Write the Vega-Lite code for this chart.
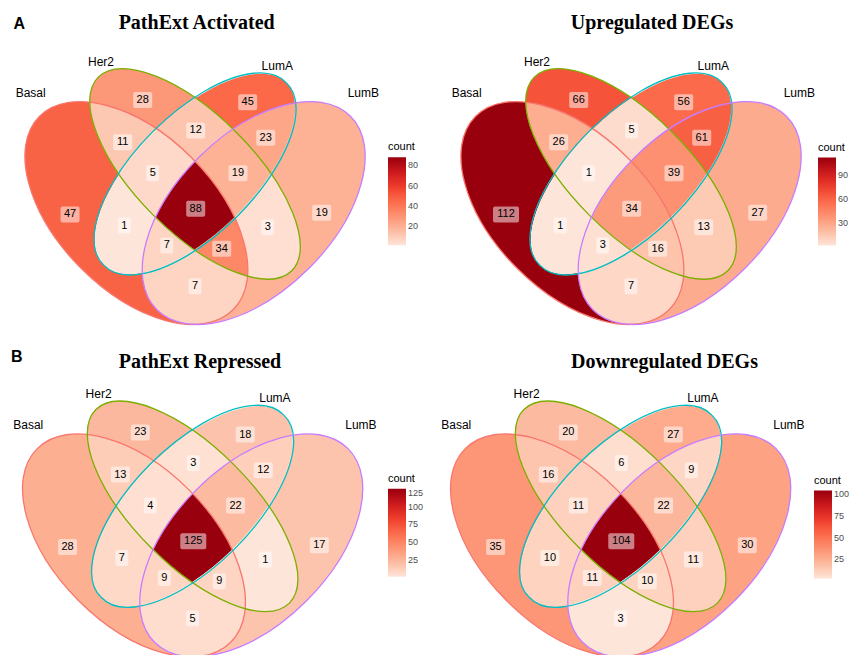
{
  "$schema": "https://vega.github.io/schema/vega-lite/v6.json",
  "background": "white",
  "padding": {"top": 12.5, "left": 0, "right": 0, "bottom": 0},
  "columns": 2,
  "bounds": "flush",
  "spacing": {"row": 47, "column": 47},
  "resolve": {
    "scale": {"color": "independent", "shape": "independent", "stroke": "independent"},
    "legend": {"color": "independent"}
  },
  "datasets": {
    "counts": [
      {"panel": "PathExt Activated", "region": "Basal", "count": 47},
      {"panel": "PathExt Activated", "region": "Her2", "count": 28},
      {"panel": "PathExt Activated", "region": "LumA", "count": 45},
      {"panel": "PathExt Activated", "region": "LumB", "count": 19},
      {"panel": "PathExt Activated", "region": "Basal..Her2", "count": 11},
      {"panel": "PathExt Activated", "region": "Her2..LumA", "count": 12},
      {"panel": "PathExt Activated", "region": "LumA..LumB", "count": 23},
      {"panel": "PathExt Activated", "region": "Basal..Her2..LumA", "count": 5},
      {"panel": "PathExt Activated", "region": "Her2..LumA..LumB", "count": 19},
      {"panel": "PathExt Activated", "region": "Basal..Her2..LumA..LumB", "count": 88},
      {"panel": "PathExt Activated", "region": "Basal..LumA", "count": 1},
      {"panel": "PathExt Activated", "region": "Her2..LumB", "count": 3},
      {"panel": "PathExt Activated", "region": "Basal..LumA..LumB", "count": 7},
      {"panel": "PathExt Activated", "region": "Basal..Her2..LumB", "count": 34},
      {"panel": "PathExt Activated", "region": "Basal..LumB", "count": 7},
      {"panel": "Upregulated DEGs", "region": "Basal", "count": 112},
      {"panel": "Upregulated DEGs", "region": "Her2", "count": 66},
      {"panel": "Upregulated DEGs", "region": "LumA", "count": 56},
      {"panel": "Upregulated DEGs", "region": "LumB", "count": 27},
      {"panel": "Upregulated DEGs", "region": "Basal..Her2", "count": 26},
      {"panel": "Upregulated DEGs", "region": "Her2..LumA", "count": 5},
      {"panel": "Upregulated DEGs", "region": "LumA..LumB", "count": 61},
      {"panel": "Upregulated DEGs", "region": "Basal..Her2..LumA", "count": 1},
      {"panel": "Upregulated DEGs", "region": "Her2..LumA..LumB", "count": 39},
      {"panel": "Upregulated DEGs", "region": "Basal..Her2..LumA..LumB", "count": 34},
      {"panel": "Upregulated DEGs", "region": "Basal..LumA", "count": 1},
      {"panel": "Upregulated DEGs", "region": "Her2..LumB", "count": 13},
      {"panel": "Upregulated DEGs", "region": "Basal..LumA..LumB", "count": 3},
      {"panel": "Upregulated DEGs", "region": "Basal..Her2..LumB", "count": 16},
      {"panel": "Upregulated DEGs", "region": "Basal..LumB", "count": 7},
      {"panel": "PathExt Repressed", "region": "Basal", "count": 28},
      {"panel": "PathExt Repressed", "region": "Her2", "count": 23},
      {"panel": "PathExt Repressed", "region": "LumA", "count": 18},
      {"panel": "PathExt Repressed", "region": "LumB", "count": 17},
      {"panel": "PathExt Repressed", "region": "Basal..Her2", "count": 13},
      {"panel": "PathExt Repressed", "region": "Her2..LumA", "count": 3},
      {"panel": "PathExt Repressed", "region": "LumA..LumB", "count": 12},
      {"panel": "PathExt Repressed", "region": "Basal..Her2..LumA", "count": 4},
      {"panel": "PathExt Repressed", "region": "Her2..LumA..LumB", "count": 22},
      {"panel": "PathExt Repressed", "region": "Basal..Her2..LumA..LumB", "count": 125},
      {"panel": "PathExt Repressed", "region": "Basal..LumA", "count": 7},
      {"panel": "PathExt Repressed", "region": "Her2..LumB", "count": 1},
      {"panel": "PathExt Repressed", "region": "Basal..LumA..LumB", "count": 9},
      {"panel": "PathExt Repressed", "region": "Basal..Her2..LumB", "count": 9},
      {"panel": "PathExt Repressed", "region": "Basal..LumB", "count": 5},
      {"panel": "Downregulated DEGs", "region": "Basal", "count": 35},
      {"panel": "Downregulated DEGs", "region": "Her2", "count": 20},
      {"panel": "Downregulated DEGs", "region": "LumA", "count": 27},
      {"panel": "Downregulated DEGs", "region": "LumB", "count": 30},
      {"panel": "Downregulated DEGs", "region": "Basal..Her2", "count": 16},
      {"panel": "Downregulated DEGs", "region": "Her2..LumA", "count": 6},
      {"panel": "Downregulated DEGs", "region": "LumA..LumB", "count": 9},
      {"panel": "Downregulated DEGs", "region": "Basal..Her2..LumA", "count": 11},
      {"panel": "Downregulated DEGs", "region": "Her2..LumA..LumB", "count": 22},
      {"panel": "Downregulated DEGs", "region": "Basal..Her2..LumA..LumB", "count": 104},
      {"panel": "Downregulated DEGs", "region": "Basal..LumA", "count": 10},
      {"panel": "Downregulated DEGs", "region": "Her2..LumB", "count": 11},
      {"panel": "Downregulated DEGs", "region": "Basal..LumA..LumB", "count": 11},
      {"panel": "Downregulated DEGs", "region": "Basal..Her2..LumB", "count": 10},
      {"panel": "Downregulated DEGs", "region": "Basal..LumB", "count": 3}
    ],
    "anchors": [
      {"region": "Basal", "lx": 0.1803, "ly": 0.4663},
      {"region": "Her2", "lx": 0.3662, "ly": 0.759},
      {"region": "LumA", "lx": 0.6347, "ly": 0.7535},
      {"region": "LumB", "lx": 0.824, "ly": 0.4704},
      {"region": "Basal..Her2", "lx": 0.315, "ly": 0.6511},
      {"region": "Her2..LumA", "lx": 0.5017, "ly": 0.6811},
      {"region": "LumA..LumB", "lx": 0.6808, "ly": 0.6624},
      {"region": "Basal..Her2..LumA", "lx": 0.3918, "ly": 0.5719},
      {"region": "Her2..LumA..LumB", "lx": 0.6099, "ly": 0.5719},
      {"region": "Basal..Her2..LumA..LumB", "lx": 0.5017, "ly": 0.4808},
      {"region": "Basal..LumA", "lx": 0.3191, "ly": 0.4381},
      {"region": "Her2..LumB", "lx": 0.6859, "ly": 0.4339},
      {"region": "Basal..LumA..LumB", "lx": 0.4276, "ly": 0.387},
      {"region": "Basal..Her2..LumB", "lx": 0.5682, "ly": 0.3785},
      {"region": "Basal..LumB", "lx": 0.4999, "ly": 0.2829}
    ],
    "sets": [
      {"set": "Basal", "sx": 0.0797, "sy": 0.7775},
      {"set": "Her2", "sx": 0.2595, "sy": 0.8575},
      {"set": "LumA", "sx": 0.7104, "sy": 0.8473},
      {"set": "LumB", "sx": 0.9304, "sy": 0.7775}
    ]
  },
  "concat": [
    {
      "width": 375,
      "height": 288,
      "title": {"text": "PathExt Activated", "dx": 9.2, "offset": -17.2},
      "data": {"name": "counts"},
      "transform": [
        {"filter": "datum.panel === 'PathExt Activated'"},
        {"lookup": "region", "from": {"data": {"name": "anchors"}, "key": "region", "fields": ["lx", "ly"]}}
      ],
      "resolve": {"scale": {"shape": "independent"}},
      "layer": [
        {
          "mark": {"type": "point", "filled": true, "opacity": 1, "size": 61.1524, "strokeWidth": 0, "clip": true},
          "encoding": {
            "x": {"datum": 0.5, "type": "quantitative", "scale": {"domain": [0.0012276, 0.960307]}, "axis": null},
            "y": {"datum": 0.5, "type": "quantitative", "scale": {"domain": [0.17468, 0.91125]}, "axis": null},
            "shape": {"field": "region", "type": "nominal", "legend": null, "scale": {
              "domain": ["Basal", "Her2", "LumA", "LumB", "Basal..Her2", "Her2..LumA", "LumA..LumB", "Basal..Her2..LumA", "Her2..LumA..LumB", "Basal..Her2..LumA..LumB", "Basal..LumA", "Her2..LumB", "Basal..LumA..LumB", "Basal..Her2..LumB", "Basal..LumB"],
              "range": [
                "M -26.93 -25.36 A 35 15 45 0 0 -19.4 -6.86 A 33 15 -45 0 0 -13.49 18.29 A 35 20 -45 0 0 0 31.5 A 35 20 45 1 1 -26.93 -25.36 Z",
                "M -26.93 -25.36 A 35 15 45 0 1 0.14 -26.4 A 33 15 -45 0 0 -9.74 -18.46 A 35 20 45 0 0 -26.93 -25.36 Z",
                "M 0.14 -26.4 A 33 15 -45 0 1 25.57 -25.17 A 35 20 -45 0 0 9.74 -18.46 A 35 15 45 0 0 0.14 -26.4 Z",
                "M 25.57 -25.17 A 35 20 -45 1 1 0 31.5 A 35 20 45 0 0 13.43 19.16 A 35 15 45 0 0 19.4 -7.14 A 33 15 -45 0 0 25.57 -25.17 Z",
                "M -26.93 -25.36 A 35 20 45 0 1 -9.74 -18.46 A 33 15 -45 0 0 -19.4 -6.86 A 35 15 45 0 1 -26.93 -25.36 Z",
                "M 0.14 -26.4 A 35 15 45 0 1 9.74 -18.46 A 35 20 -45 0 0 0 -10.27 A 35 20 45 0 0 -9.74 -18.46 A 33 15 -45 0 1 0.14 -26.4 Z",
                "M 25.57 -25.17 A 33 15 -45 0 1 19.4 -7.14 A 35 15 45 0 0 9.74 -18.46 A 35 20 -45 0 1 25.57 -25.17 Z",
                "M -9.74 -18.46 A 35 20 45 0 1 0 -10.27 A 35 20 -45 0 0 -10.1 4.1 A 35 15 45 0 1 -19.4 -6.86 A 33 15 -45 0 1 -9.74 -18.46 Z",
                "M 9.74 -18.46 A 35 15 45 0 1 19.4 -7.14 A 33 15 -45 0 1 10.1 4.1 A 35 20 45 0 0 0 -10.27 A 35 20 -45 0 1 9.74 -18.46 Z",
                "M 0 -10.27 A 35 20 45 0 1 10.1 4.1 A 33 15 -45 0 1 -0.14 12.4 A 35 15 45 0 1 -10.1 4.1 A 35 20 -45 0 1 0 -10.27 Z",
                "M -19.4 -6.86 A 35 15 45 0 0 -10.1 4.1 A 35 20 -45 0 0 -13.49 18.29 A 33 15 -45 0 1 -19.4 -6.86 Z",
                "M 19.4 -7.14 A 35 15 45 0 1 13.43 19.16 A 35 20 45 0 0 10.1 4.1 A 33 15 -45 0 0 19.4 -7.14 Z",
                "M -10.1 4.1 A 35 15 45 0 0 -0.14 12.4 A 33 15 -45 0 1 -13.49 18.29 A 35 20 -45 0 1 -10.1 4.1 Z",
                "M 10.1 4.1 A 35 20 45 0 1 13.43 19.16 A 35 15 45 0 1 -0.14 12.4 A 33 15 -45 0 0 10.1 4.1 Z",
                "M -0.14 12.4 A 35 15 45 0 0 13.43 19.16 A 35 20 45 0 1 0 31.5 A 35 20 -45 0 1 -13.49 18.29 A 33 15 -45 0 0 -0.14 12.4 Z"
              ]}},
            "color": {"field": "count", "type": "quantitative",
              "scale": {"domain": [1, 15.5, 30, 44.5, 59, 73.5, 88], "range": ["#FEE5D9", "#FCBBA1", "#FC9272", "#FB6A4A", "#EF3B2C", "#CB181D", "#99000D"], "interpolate": "lab"},
              "legend": {"title": "count", "orient": "none", "legendX": 388, "legendY": 100.7, "direction": "vertical", "values": [20, 40, 60, 80]}}
          }
        },
        {
          "data": {"name": "sets"},
          "mark": {"type": "point", "filled": false, "opacity": 1, "size": 61.1524, "strokeWidth": 1.3, "clip": true},
          "encoding": {
            "x": {"datum": 0.5, "type": "quantitative", "scale": {"domain": [0.0012276, 0.960307]}, "axis": null},
            "y": {"datum": 0.5, "type": "quantitative", "scale": {"domain": [0.17468, 0.91125]}, "axis": null},
            "shape": {"field": "set", "type": "nominal", "legend": null, "scale": {
              "domain": ["Basal", "Her2", "LumA", "LumB"],
              "range": [
                "M -39.75 -21.75 A 35 20 45 1 1 9.75 27.75 A 35 20 45 1 1 -39.75 -21.75 Z",
                "M -24.75 -31.75 A 35 15 45 1 1 24.75 17.75 A 35 15 45 1 1 -24.75 -31.75 Z",
                "M 23.33 -30.33 A 33 15 -45 1 1 -23.33 16.33 A 33 15 -45 1 1 23.33 -30.33 Z",
                "M 39.75 -21.75 A 35 20 -45 1 1 -9.75 27.75 A 35 20 -45 1 1 39.75 -21.75 Z"
              ]}},
            "stroke": {"field": "set", "type": "nominal", "legend": null, "scale": {"domain": ["Basal", "Her2", "LumA", "LumB"], "range": ["#F8766D", "#7CAE00", "#00BFC4", "#C77CFF"]}}
          }
        },
        {
          "data": {"name": "sets"},
          "mark": {"type": "text", "fontSize": 12, "color": "#000000"},
          "encoding": {
            "x": {"field": "sx", "type": "quantitative", "scale": {"domain": [0.0012276, 0.960307]}, "axis": null},
            "y": {"field": "sy", "type": "quantitative", "scale": {"domain": [0.17468, 0.91125]}, "axis": null},
            "text": {"field": "set"}
          }
        },
        {
          "mark": {"type": "point", "filled": true, "fill": "white", "fillOpacity": 0.5, "opacity": 1, "strokeWidth": 0, "size": 4},
          "encoding": {
            "x": {"field": "lx", "type": "quantitative", "scale": {"domain": [0.0012276, 0.960307]}, "axis": null},
            "y": {"field": "ly", "type": "quantitative", "scale": {"domain": [0.17468, 0.91125]}, "axis": null},
            "shape": {"condition": [
              {"test": "datum.count >= 100", "value": "M -11 -8 H 11 A 2 2 0 0 1 13 -6 V 6 A 2 2 0 0 1 11 8 H -11 A 2 2 0 0 1 -13 6 V -6 A 2 2 0 0 1 -11 -8 Z"},
              {"test": "datum.count >= 10", "value": "M -7.5 -8 H 7.5 A 2 2 0 0 1 9.5 -6 V 6 A 2 2 0 0 1 7.5 8 H -7.5 A 2 2 0 0 1 -9.5 6 V -6 A 2 2 0 0 1 -7.5 -8 Z"}],
              "value": "M -4.5 -8 H 4.5 A 2 2 0 0 1 6.5 -6 V 6 A 2 2 0 0 1 4.5 8 H -4.5 A 2 2 0 0 1 -6.5 6 V -6 A 2 2 0 0 1 -4.5 -8 Z"}
          }
        },
        {
          "mark": {"type": "text", "fontSize": 11, "color": "#000000"},
          "encoding": {
            "x": {"field": "lx", "type": "quantitative", "scale": {"domain": [0.0012276, 0.960307]}, "axis": null},
            "y": {"field": "ly", "type": "quantitative", "scale": {"domain": [0.17468, 0.91125]}, "axis": null},
            "text": {"field": "count", "type": "quantitative", "format": "d"}
          }
        },
        {
          "data": {"values": [{"tag": "A"}]},
          "mark": {"type": "text", "fontSize": 16, "fontWeight": "bold", "color": "#000000"},
          "encoding": {
            "x": {"datum": 0.0506, "type": "quantitative", "scale": {"domain": [0.0012276, 0.960307]}, "axis": null},
            "y": {"datum": 0.954, "type": "quantitative", "scale": {"domain": [0.17468, 0.91125]}, "axis": null},
            "text": {"field": "tag"}
          }
        }
      ]
    },
    {
      "width": 388,
      "height": 288,
      "title": {"text": "Upregulated DEGs", "dx": 36, "offset": 7.5},
      "data": {"name": "counts"},
      "transform": [
        {"filter": "datum.panel === 'Upregulated DEGs'"},
        {"lookup": "region", "from": {"data": {"name": "anchors"}, "key": "region", "fields": ["lx", "ly"]}}
      ],
      "resolve": {"scale": {"shape": "independent"}},
      "layer": [
        {
          "mark": {"type": "point", "filled": true, "opacity": 1, "size": 61.1524, "strokeWidth": 0, "clip": true},
          "encoding": {
            "x": {"datum": 0.5, "type": "quantitative", "scale": {"domain": [-0.034578, 0.957749]}, "axis": null},
            "y": {"datum": 0.5, "type": "quantitative", "scale": {"domain": [0.17468, 0.91125]}, "axis": null},
            "shape": {"field": "region", "type": "nominal", "legend": null, "scale": {
              "domain": ["Basal", "Her2", "LumA", "LumB", "Basal..Her2", "Her2..LumA", "LumA..LumB", "Basal..Her2..LumA", "Her2..LumA..LumB", "Basal..Her2..LumA..LumB", "Basal..LumA", "Her2..LumB", "Basal..LumA..LumB", "Basal..Her2..LumB", "Basal..LumB"],
              "range": [
                "M -26.93 -25.36 A 35 15 45 0 0 -19.4 -6.86 A 33 15 -45 0 0 -13.49 18.29 A 35 20 -45 0 0 0 31.5 A 35 20 45 1 1 -26.93 -25.36 Z",
                "M -26.93 -25.36 A 35 15 45 0 1 0.14 -26.4 A 33 15 -45 0 0 -9.74 -18.46 A 35 20 45 0 0 -26.93 -25.36 Z",
                "M 0.14 -26.4 A 33 15 -45 0 1 25.57 -25.17 A 35 20 -45 0 0 9.74 -18.46 A 35 15 45 0 0 0.14 -26.4 Z",
                "M 25.57 -25.17 A 35 20 -45 1 1 0 31.5 A 35 20 45 0 0 13.43 19.16 A 35 15 45 0 0 19.4 -7.14 A 33 15 -45 0 0 25.57 -25.17 Z",
                "M -26.93 -25.36 A 35 20 45 0 1 -9.74 -18.46 A 33 15 -45 0 0 -19.4 -6.86 A 35 15 45 0 1 -26.93 -25.36 Z",
                "M 0.14 -26.4 A 35 15 45 0 1 9.74 -18.46 A 35 20 -45 0 0 0 -10.27 A 35 20 45 0 0 -9.74 -18.46 A 33 15 -45 0 1 0.14 -26.4 Z",
                "M 25.57 -25.17 A 33 15 -45 0 1 19.4 -7.14 A 35 15 45 0 0 9.74 -18.46 A 35 20 -45 0 1 25.57 -25.17 Z",
                "M -9.74 -18.46 A 35 20 45 0 1 0 -10.27 A 35 20 -45 0 0 -10.1 4.1 A 35 15 45 0 1 -19.4 -6.86 A 33 15 -45 0 1 -9.74 -18.46 Z",
                "M 9.74 -18.46 A 35 15 45 0 1 19.4 -7.14 A 33 15 -45 0 1 10.1 4.1 A 35 20 45 0 0 0 -10.27 A 35 20 -45 0 1 9.74 -18.46 Z",
                "M 0 -10.27 A 35 20 45 0 1 10.1 4.1 A 33 15 -45 0 1 -0.14 12.4 A 35 15 45 0 1 -10.1 4.1 A 35 20 -45 0 1 0 -10.27 Z",
                "M -19.4 -6.86 A 35 15 45 0 0 -10.1 4.1 A 35 20 -45 0 0 -13.49 18.29 A 33 15 -45 0 1 -19.4 -6.86 Z",
                "M 19.4 -7.14 A 35 15 45 0 1 13.43 19.16 A 35 20 45 0 0 10.1 4.1 A 33 15 -45 0 0 19.4 -7.14 Z",
                "M -10.1 4.1 A 35 15 45 0 0 -0.14 12.4 A 33 15 -45 0 1 -13.49 18.29 A 35 20 -45 0 1 -10.1 4.1 Z",
                "M 10.1 4.1 A 35 20 45 0 1 13.43 19.16 A 35 15 45 0 1 -0.14 12.4 A 33 15 -45 0 0 10.1 4.1 Z",
                "M -0.14 12.4 A 35 15 45 0 0 13.43 19.16 A 35 20 45 0 1 0 31.5 A 35 20 -45 0 1 -13.49 18.29 A 33 15 -45 0 0 -0.14 12.4 Z"
              ]}},
            "color": {"field": "count", "type": "quantitative",
              "scale": {"domain": [1, 19.5, 38, 56.5, 75, 93.5, 112], "range": ["#FEE5D9", "#FCBBA1", "#FC9272", "#FB6A4A", "#EF3B2C", "#CB181D", "#99000D"], "interpolate": "lab"},
              "legend": {"title": "count", "orient": "none", "legendX": 396, "legendY": 101, "direction": "vertical", "values": [30, 60, 90]}}
          }
        },
        {
          "data": {"name": "sets"},
          "mark": {"type": "point", "filled": false, "opacity": 1, "size": 61.1524, "strokeWidth": 1.3, "clip": true},
          "encoding": {
            "x": {"datum": 0.5, "type": "quantitative", "scale": {"domain": [-0.034578, 0.957749]}, "axis": null},
            "y": {"datum": 0.5, "type": "quantitative", "scale": {"domain": [0.17468, 0.91125]}, "axis": null},
            "shape": {"field": "set", "type": "nominal", "legend": null, "scale": {
              "domain": ["Basal", "Her2", "LumA", "LumB"],
              "range": [
                "M -39.75 -21.75 A 35 20 45 1 1 9.75 27.75 A 35 20 45 1 1 -39.75 -21.75 Z",
                "M -24.75 -31.75 A 35 15 45 1 1 24.75 17.75 A 35 15 45 1 1 -24.75 -31.75 Z",
                "M 23.33 -30.33 A 33 15 -45 1 1 -23.33 16.33 A 33 15 -45 1 1 23.33 -30.33 Z",
                "M 39.75 -21.75 A 35 20 -45 1 1 -9.75 27.75 A 35 20 -45 1 1 39.75 -21.75 Z"
              ]}},
            "stroke": {"field": "set", "type": "nominal", "legend": null, "scale": {"domain": ["Basal", "Her2", "LumA", "LumB"], "range": ["#F8766D", "#7CAE00", "#00BFC4", "#C77CFF"]}}
          }
        },
        {
          "data": {"name": "sets"},
          "mark": {"type": "text", "fontSize": 12, "color": "#000000"},
          "encoding": {
            "x": {"field": "sx", "type": "quantitative", "scale": {"domain": [-0.034578, 0.957749]}, "axis": null},
            "y": {"field": "sy", "type": "quantitative", "scale": {"domain": [0.17468, 0.91125]}, "axis": null},
            "text": {"field": "set"}
          }
        },
        {
          "mark": {"type": "point", "filled": true, "fill": "white", "fillOpacity": 0.5, "opacity": 1, "strokeWidth": 0, "size": 4},
          "encoding": {
            "x": {"field": "lx", "type": "quantitative", "scale": {"domain": [-0.034578, 0.957749]}, "axis": null},
            "y": {"field": "ly", "type": "quantitative", "scale": {"domain": [0.17468, 0.91125]}, "axis": null},
            "shape": {"condition": [
              {"test": "datum.count >= 100", "value": "M -11 -8 H 11 A 2 2 0 0 1 13 -6 V 6 A 2 2 0 0 1 11 8 H -11 A 2 2 0 0 1 -13 6 V -6 A 2 2 0 0 1 -11 -8 Z"},
              {"test": "datum.count >= 10", "value": "M -7.5 -8 H 7.5 A 2 2 0 0 1 9.5 -6 V 6 A 2 2 0 0 1 7.5 8 H -7.5 A 2 2 0 0 1 -9.5 6 V -6 A 2 2 0 0 1 -7.5 -8 Z"}],
              "value": "M -4.5 -8 H 4.5 A 2 2 0 0 1 6.5 -6 V 6 A 2 2 0 0 1 4.5 8 H -4.5 A 2 2 0 0 1 -6.5 6 V -6 A 2 2 0 0 1 -4.5 -8 Z"}
          }
        },
        {
          "mark": {"type": "text", "fontSize": 11, "color": "#000000"},
          "encoding": {
            "x": {"field": "lx", "type": "quantitative", "scale": {"domain": [-0.034578, 0.957749]}, "axis": null},
            "y": {"field": "ly", "type": "quantitative", "scale": {"domain": [0.17468, 0.91125]}, "axis": null},
            "text": {"field": "count", "type": "quantitative", "format": "d"}
          }
        }
      ]
    },
    {
      "width": 375,
      "height": 280,
      "title": {"text": "PathExt Repressed", "dx": 12.5, "offset": -22.8},
      "data": {"name": "counts"},
      "transform": [
        {"filter": "datum.panel === 'PathExt Repressed'"},
        {"lookup": "region", "from": {"data": {"name": "anchors"}, "key": "region", "fields": ["lx", "ly"]}}
      ],
      "resolve": {"scale": {"shape": "independent"}},
      "layer": [
        {
          "mark": {"type": "point", "filled": true, "opacity": 1, "size": 61.1524, "strokeWidth": 0, "clip": true},
          "encoding": {
            "x": {"datum": 0.5, "type": "quantitative", "scale": {"domain": [0.0073657, 0.966445]}, "axis": null},
            "y": {"datum": 0.5, "type": "quantitative", "scale": {"domain": [0.188491, 0.904604]}, "axis": null},
            "shape": {"field": "region", "type": "nominal", "legend": null, "scale": {
              "domain": ["Basal", "Her2", "LumA", "LumB", "Basal..Her2", "Her2..LumA", "LumA..LumB", "Basal..Her2..LumA", "Her2..LumA..LumB", "Basal..Her2..LumA..LumB", "Basal..LumA", "Her2..LumB", "Basal..LumA..LumB", "Basal..Her2..LumB", "Basal..LumB"],
              "range": [
                "M -26.93 -25.36 A 35 15 45 0 0 -19.4 -6.86 A 33 15 -45 0 0 -13.49 18.29 A 35 20 -45 0 0 0 31.5 A 35 20 45 1 1 -26.93 -25.36 Z",
                "M -26.93 -25.36 A 35 15 45 0 1 0.14 -26.4 A 33 15 -45 0 0 -9.74 -18.46 A 35 20 45 0 0 -26.93 -25.36 Z",
                "M 0.14 -26.4 A 33 15 -45 0 1 25.57 -25.17 A 35 20 -45 0 0 9.74 -18.46 A 35 15 45 0 0 0.14 -26.4 Z",
                "M 25.57 -25.17 A 35 20 -45 1 1 0 31.5 A 35 20 45 0 0 13.43 19.16 A 35 15 45 0 0 19.4 -7.14 A 33 15 -45 0 0 25.57 -25.17 Z",
                "M -26.93 -25.36 A 35 20 45 0 1 -9.74 -18.46 A 33 15 -45 0 0 -19.4 -6.86 A 35 15 45 0 1 -26.93 -25.36 Z",
                "M 0.14 -26.4 A 35 15 45 0 1 9.74 -18.46 A 35 20 -45 0 0 0 -10.27 A 35 20 45 0 0 -9.74 -18.46 A 33 15 -45 0 1 0.14 -26.4 Z",
                "M 25.57 -25.17 A 33 15 -45 0 1 19.4 -7.14 A 35 15 45 0 0 9.74 -18.46 A 35 20 -45 0 1 25.57 -25.17 Z",
                "M -9.74 -18.46 A 35 20 45 0 1 0 -10.27 A 35 20 -45 0 0 -10.1 4.1 A 35 15 45 0 1 -19.4 -6.86 A 33 15 -45 0 1 -9.74 -18.46 Z",
                "M 9.74 -18.46 A 35 15 45 0 1 19.4 -7.14 A 33 15 -45 0 1 10.1 4.1 A 35 20 45 0 0 0 -10.27 A 35 20 -45 0 1 9.74 -18.46 Z",
                "M 0 -10.27 A 35 20 45 0 1 10.1 4.1 A 33 15 -45 0 1 -0.14 12.4 A 35 15 45 0 1 -10.1 4.1 A 35 20 -45 0 1 0 -10.27 Z",
                "M -19.4 -6.86 A 35 15 45 0 0 -10.1 4.1 A 35 20 -45 0 0 -13.49 18.29 A 33 15 -45 0 1 -19.4 -6.86 Z",
                "M 19.4 -7.14 A 35 15 45 0 1 13.43 19.16 A 35 20 45 0 0 10.1 4.1 A 33 15 -45 0 0 19.4 -7.14 Z",
                "M -10.1 4.1 A 35 15 45 0 0 -0.14 12.4 A 33 15 -45 0 1 -13.49 18.29 A 35 20 -45 0 1 -10.1 4.1 Z",
                "M 10.1 4.1 A 35 20 45 0 1 13.43 19.16 A 35 15 45 0 1 -0.14 12.4 A 33 15 -45 0 0 10.1 4.1 Z",
                "M -0.14 12.4 A 35 15 45 0 0 13.43 19.16 A 35 20 45 0 1 0 31.5 A 35 20 -45 0 1 -13.49 18.29 A 33 15 -45 0 0 -0.14 12.4 Z"
              ]}},
            "color": {"field": "count", "type": "quantitative",
              "scale": {"domain": [1, 21.6667, 42.3333, 63, 83.6667, 104.3333, 125], "range": ["#FEE5D9", "#FCBBA1", "#FC9272", "#FB6A4A", "#EF3B2C", "#CB181D", "#99000D"], "interpolate": "lab"},
              "legend": {"title": "count", "orient": "none", "legendX": 388, "legendY": 97.3, "direction": "vertical", "values": [25, 50, 75, 100, 125]}}
          }
        },
        {
          "data": {"name": "sets"},
          "mark": {"type": "point", "filled": false, "opacity": 1, "size": 61.1524, "strokeWidth": 1.3, "clip": true},
          "encoding": {
            "x": {"datum": 0.5, "type": "quantitative", "scale": {"domain": [0.0073657, 0.966445]}, "axis": null},
            "y": {"datum": 0.5, "type": "quantitative", "scale": {"domain": [0.188491, 0.904604]}, "axis": null},
            "shape": {"field": "set", "type": "nominal", "legend": null, "scale": {
              "domain": ["Basal", "Her2", "LumA", "LumB"],
              "range": [
                "M -39.75 -21.75 A 35 20 45 1 1 9.75 27.75 A 35 20 45 1 1 -39.75 -21.75 Z",
                "M -24.75 -31.75 A 35 15 45 1 1 24.75 17.75 A 35 15 45 1 1 -24.75 -31.75 Z",
                "M 23.33 -30.33 A 33 15 -45 1 1 -23.33 16.33 A 33 15 -45 1 1 23.33 -30.33 Z",
                "M 39.75 -21.75 A 35 20 -45 1 1 -9.75 27.75 A 35 20 -45 1 1 39.75 -21.75 Z"
              ]}},
            "stroke": {"field": "set", "type": "nominal", "legend": null, "scale": {"domain": ["Basal", "Her2", "LumA", "LumB"], "range": ["#F8766D", "#7CAE00", "#00BFC4", "#C77CFF"]}}
          }
        },
        {
          "data": {"name": "sets"},
          "mark": {"type": "text", "fontSize": 12, "color": "#000000"},
          "encoding": {
            "x": {"field": "sx", "type": "quantitative", "scale": {"domain": [0.0073657, 0.966445]}, "axis": null},
            "y": {"field": "sy", "type": "quantitative", "scale": {"domain": [0.188491, 0.904604]}, "axis": null},
            "text": {"field": "set"}
          }
        },
        {
          "mark": {"type": "point", "filled": true, "fill": "white", "fillOpacity": 0.5, "opacity": 1, "strokeWidth": 0, "size": 4},
          "encoding": {
            "x": {"field": "lx", "type": "quantitative", "scale": {"domain": [0.0073657, 0.966445]}, "axis": null},
            "y": {"field": "ly", "type": "quantitative", "scale": {"domain": [0.188491, 0.904604]}, "axis": null},
            "shape": {"condition": [
              {"test": "datum.count >= 100", "value": "M -11 -8 H 11 A 2 2 0 0 1 13 -6 V 6 A 2 2 0 0 1 11 8 H -11 A 2 2 0 0 1 -13 6 V -6 A 2 2 0 0 1 -11 -8 Z"},
              {"test": "datum.count >= 10", "value": "M -7.5 -8 H 7.5 A 2 2 0 0 1 9.5 -6 V 6 A 2 2 0 0 1 7.5 8 H -7.5 A 2 2 0 0 1 -9.5 6 V -6 A 2 2 0 0 1 -7.5 -8 Z"}],
              "value": "M -4.5 -8 H 4.5 A 2 2 0 0 1 6.5 -6 V 6 A 2 2 0 0 1 4.5 8 H -4.5 A 2 2 0 0 1 -6.5 6 V -6 A 2 2 0 0 1 -4.5 -8 Z"}
          }
        },
        {
          "mark": {"type": "text", "fontSize": 11, "color": "#000000"},
          "encoding": {
            "x": {"field": "lx", "type": "quantitative", "scale": {"domain": [0.0073657, 0.966445]}, "axis": null},
            "y": {"field": "ly", "type": "quantitative", "scale": {"domain": [0.188491, 0.904604]}, "axis": null},
            "text": {"field": "count", "type": "quantitative", "format": "d"}
          }
        },
        {
          "data": {"values": [{"tag": "B"}]},
          "mark": {"type": "text", "fontSize": 16, "fontWeight": "bold", "color": "#000000"},
          "encoding": {
            "x": {"datum": 0.0501, "type": "quantitative", "scale": {"domain": [0.0073657, 0.966445]}, "axis": null},
            "y": {"datum": 0.9514, "type": "quantitative", "scale": {"domain": [0.188491, 0.904604]}, "axis": null},
            "text": {"field": "tag"}
          }
        }
      ]
    },
    {
      "width": 379,
      "height": 280,
      "title": {"text": "Downregulated DEGs", "dx": 53, "offset": 3.5},
      "data": {"name": "counts"},
      "transform": [
        {"filter": "datum.panel === 'Downregulated DEGs'"},
        {"lookup": "region", "from": {"data": {"name": "anchors"}, "key": "region", "fields": ["lx", "ly"]}}
      ],
      "resolve": {"scale": {"shape": "independent"}},
      "layer": [
        {
          "mark": {"type": "point", "filled": true, "opacity": 1, "size": 61.1524, "strokeWidth": 0, "clip": true},
          "encoding": {
            "x": {"datum": 0.5, "type": "quantitative", "scale": {"domain": [-0.0079795, 0.96133]}, "axis": null},
            "y": {"datum": 0.5, "type": "quantitative", "scale": {"domain": [0.188491, 0.904604]}, "axis": null},
            "shape": {"field": "region", "type": "nominal", "legend": null, "scale": {
              "domain": ["Basal", "Her2", "LumA", "LumB", "Basal..Her2", "Her2..LumA", "LumA..LumB", "Basal..Her2..LumA", "Her2..LumA..LumB", "Basal..Her2..LumA..LumB", "Basal..LumA", "Her2..LumB", "Basal..LumA..LumB", "Basal..Her2..LumB", "Basal..LumB"],
              "range": [
                "M -26.93 -25.36 A 35 15 45 0 0 -19.4 -6.86 A 33 15 -45 0 0 -13.49 18.29 A 35 20 -45 0 0 0 31.5 A 35 20 45 1 1 -26.93 -25.36 Z",
                "M -26.93 -25.36 A 35 15 45 0 1 0.14 -26.4 A 33 15 -45 0 0 -9.74 -18.46 A 35 20 45 0 0 -26.93 -25.36 Z",
                "M 0.14 -26.4 A 33 15 -45 0 1 25.57 -25.17 A 35 20 -45 0 0 9.74 -18.46 A 35 15 45 0 0 0.14 -26.4 Z",
                "M 25.57 -25.17 A 35 20 -45 1 1 0 31.5 A 35 20 45 0 0 13.43 19.16 A 35 15 45 0 0 19.4 -7.14 A 33 15 -45 0 0 25.57 -25.17 Z",
                "M -26.93 -25.36 A 35 20 45 0 1 -9.74 -18.46 A 33 15 -45 0 0 -19.4 -6.86 A 35 15 45 0 1 -26.93 -25.36 Z",
                "M 0.14 -26.4 A 35 15 45 0 1 9.74 -18.46 A 35 20 -45 0 0 0 -10.27 A 35 20 45 0 0 -9.74 -18.46 A 33 15 -45 0 1 0.14 -26.4 Z",
                "M 25.57 -25.17 A 33 15 -45 0 1 19.4 -7.14 A 35 15 45 0 0 9.74 -18.46 A 35 20 -45 0 1 25.57 -25.17 Z",
                "M -9.74 -18.46 A 35 20 45 0 1 0 -10.27 A 35 20 -45 0 0 -10.1 4.1 A 35 15 45 0 1 -19.4 -6.86 A 33 15 -45 0 1 -9.74 -18.46 Z",
                "M 9.74 -18.46 A 35 15 45 0 1 19.4 -7.14 A 33 15 -45 0 1 10.1 4.1 A 35 20 45 0 0 0 -10.27 A 35 20 -45 0 1 9.74 -18.46 Z",
                "M 0 -10.27 A 35 20 45 0 1 10.1 4.1 A 33 15 -45 0 1 -0.14 12.4 A 35 15 45 0 1 -10.1 4.1 A 35 20 -45 0 1 0 -10.27 Z",
                "M -19.4 -6.86 A 35 15 45 0 0 -10.1 4.1 A 35 20 -45 0 0 -13.49 18.29 A 33 15 -45 0 1 -19.4 -6.86 Z",
                "M 19.4 -7.14 A 35 15 45 0 1 13.43 19.16 A 35 20 45 0 0 10.1 4.1 A 33 15 -45 0 0 19.4 -7.14 Z",
                "M -10.1 4.1 A 35 15 45 0 0 -0.14 12.4 A 33 15 -45 0 1 -13.49 18.29 A 35 20 -45 0 1 -10.1 4.1 Z",
                "M 10.1 4.1 A 35 20 45 0 1 13.43 19.16 A 35 15 45 0 1 -0.14 12.4 A 33 15 -45 0 0 10.1 4.1 Z",
                "M -0.14 12.4 A 35 15 45 0 0 13.43 19.16 A 35 20 45 0 1 0 31.5 A 35 20 -45 0 1 -13.49 18.29 A 33 15 -45 0 0 -0.14 12.4 Z"
              ]}},
            "color": {"field": "count", "type": "quantitative",
              "scale": {"domain": [3, 19.8333, 36.6667, 53.5, 70.3333, 87.1667, 104], "range": ["#FEE5D9", "#FCBBA1", "#FC9272", "#FB6A4A", "#EF3B2C", "#CB181D", "#99000D"], "interpolate": "lab"},
              "legend": {"title": "count", "orient": "none", "legendX": 392, "legendY": 99, "direction": "vertical", "values": [25, 50, 75, 100]}}
          }
        },
        {
          "data": {"name": "sets"},
          "mark": {"type": "point", "filled": false, "opacity": 1, "size": 61.1524, "strokeWidth": 1.3, "clip": true},
          "encoding": {
            "x": {"datum": 0.5, "type": "quantitative", "scale": {"domain": [-0.0079795, 0.96133]}, "axis": null},
            "y": {"datum": 0.5, "type": "quantitative", "scale": {"domain": [0.188491, 0.904604]}, "axis": null},
            "shape": {"field": "set", "type": "nominal", "legend": null, "scale": {
              "domain": ["Basal", "Her2", "LumA", "LumB"],
              "range": [
                "M -39.75 -21.75 A 35 20 45 1 1 9.75 27.75 A 35 20 45 1 1 -39.75 -21.75 Z",
                "M -24.75 -31.75 A 35 15 45 1 1 24.75 17.75 A 35 15 45 1 1 -24.75 -31.75 Z",
                "M 23.33 -30.33 A 33 15 -45 1 1 -23.33 16.33 A 33 15 -45 1 1 23.33 -30.33 Z",
                "M 39.75 -21.75 A 35 20 -45 1 1 -9.75 27.75 A 35 20 -45 1 1 39.75 -21.75 Z"
              ]}},
            "stroke": {"field": "set", "type": "nominal", "legend": null, "scale": {"domain": ["Basal", "Her2", "LumA", "LumB"], "range": ["#F8766D", "#7CAE00", "#00BFC4", "#C77CFF"]}}
          }
        },
        {
          "data": {"name": "sets"},
          "mark": {"type": "text", "fontSize": 12, "color": "#000000"},
          "encoding": {
            "x": {"field": "sx", "type": "quantitative", "scale": {"domain": [-0.0079795, 0.96133]}, "axis": null},
            "y": {"field": "sy", "type": "quantitative", "scale": {"domain": [0.188491, 0.904604]}, "axis": null},
            "text": {"field": "set"}
          }
        },
        {
          "mark": {"type": "point", "filled": true, "fill": "white", "fillOpacity": 0.5, "opacity": 1, "strokeWidth": 0, "size": 4},
          "encoding": {
            "x": {"field": "lx", "type": "quantitative", "scale": {"domain": [-0.0079795, 0.96133]}, "axis": null},
            "y": {"field": "ly", "type": "quantitative", "scale": {"domain": [0.188491, 0.904604]}, "axis": null},
            "shape": {"condition": [
              {"test": "datum.count >= 100", "value": "M -11 -8 H 11 A 2 2 0 0 1 13 -6 V 6 A 2 2 0 0 1 11 8 H -11 A 2 2 0 0 1 -13 6 V -6 A 2 2 0 0 1 -11 -8 Z"},
              {"test": "datum.count >= 10", "value": "M -7.5 -8 H 7.5 A 2 2 0 0 1 9.5 -6 V 6 A 2 2 0 0 1 7.5 8 H -7.5 A 2 2 0 0 1 -9.5 6 V -6 A 2 2 0 0 1 -7.5 -8 Z"}],
              "value": "M -4.5 -8 H 4.5 A 2 2 0 0 1 6.5 -6 V 6 A 2 2 0 0 1 4.5 8 H -4.5 A 2 2 0 0 1 -6.5 6 V -6 A 2 2 0 0 1 -4.5 -8 Z"}
          }
        },
        {
          "mark": {"type": "text", "fontSize": 11, "color": "#000000"},
          "encoding": {
            "x": {"field": "lx", "type": "quantitative", "scale": {"domain": [-0.0079795, 0.96133]}, "axis": null},
            "y": {"field": "ly", "type": "quantitative", "scale": {"domain": [0.188491, 0.904604]}, "axis": null},
            "text": {"field": "count", "type": "quantitative", "format": "d"}
          }
        }
      ]
    }
  ],
  "config": {
    "font": "Liberation Sans",
    "view": {"stroke": null},
    "title": {"font": "Liberation Serif", "fontSize": 20, "fontWeight": "bold", "color": "#000000", "anchor": "middle", "frame": "group"},
    "legend": {
      "gradientThickness": 18,
      "gradientLength": 88,
      "gradientStrokeWidth": 0,
      "titleFont": "Liberation Sans",
      "titleFontSize": 11,
      "titleFontWeight": "normal",
      "titleColor": "#000000",
      "titlePadding": 5,
      "labelFont": "Liberation Sans",
      "labelFontSize": 9,
      "labelColor": "#4d4d4d",
      "labelOffset": 4,
      "labelOverlap": false,
      "padding": 0
    }
  }
}
